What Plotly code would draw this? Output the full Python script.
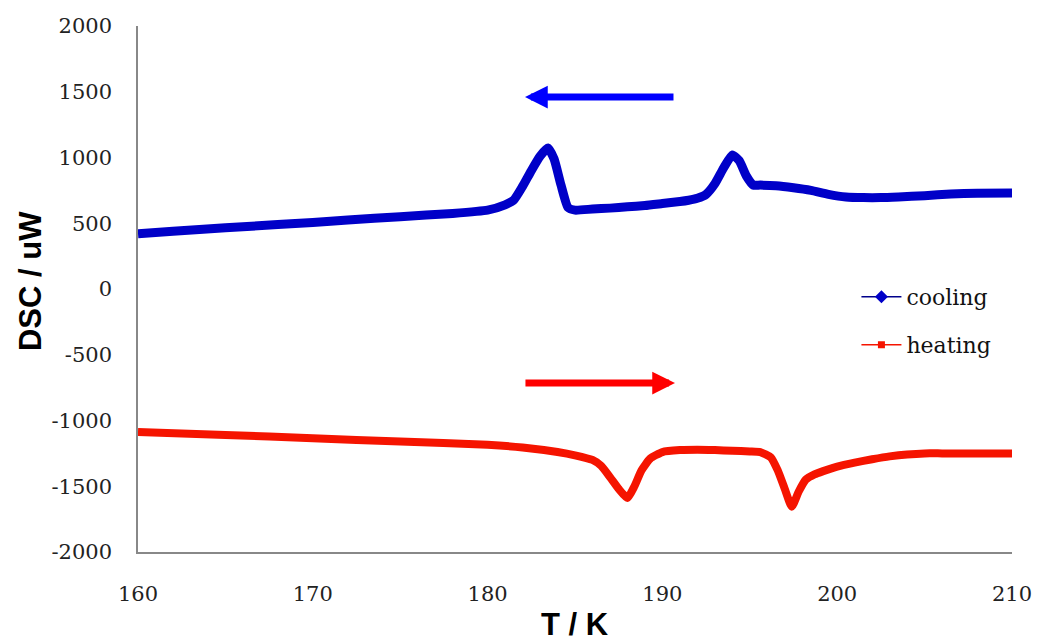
import plotly.graph_objects as go

# ---- data ----
cool_T = [160, 162, 165, 168, 170, 172, 175, 178, 180, 181, 181.5, 182, 182.5, 183, 183.45,
          183.8, 184.2, 184.6, 185, 186, 187, 188, 189, 190, 191, 191.5, 192, 192.5, 193, 193.5,
          194.0, 194.4, 194.8, 195.2, 195.6, 196.5, 197.5, 198.5, 199.5, 200.5, 201.5,
          202.5, 203.5, 205, 206.5, 208, 210]
cool_dsc = [420, 440, 465, 490, 505, 525, 550, 575, 600, 640, 677, 780, 900, 1010, 1072,
            990, 790, 620, 600, 608, 615, 625, 635, 650, 665, 675, 690, 720, 800, 920,
            1020, 975, 860, 790, 790, 785, 770, 750, 720, 700, 695,
            695, 700, 710, 722, 728, 730]

heat_T = [160, 165, 170, 175, 180, 182, 184, 185, 186, 186.5, 187, 187.5, 188, 188.4, 188.8,
          189.3, 190, 191, 192, 193, 194, 195, 195.6, 196.2, 196.6, 197, 197.4, 197.8,
          198.2, 198.7, 199.2, 200, 201, 202, 203, 204, 205, 206, 208, 210]
heat_dsc = [-1087, -1110, -1135, -1160, -1185, -1205, -1240, -1265, -1300, -1345, -1430, -1520,
            -1590, -1500, -1380, -1290, -1240, -1225, -1222, -1225, -1230, -1235, -1240, -1280,
            -1380, -1520, -1655, -1540, -1450, -1410, -1385, -1350, -1320, -1295, -1273, -1258,
            -1250, -1250, -1250, -1250]

y_ticks = [2000, 1500, 1000, 500, 0, -500, -1000, -1500, -2000]
y_tick_text = ["2000", "1500", "1000", "500", "0", "-500", "-1000", "-1500", "-2000"]
x_ticks = [160, 170, 180, 190, 200, 210]

BLUE = "#0000C8"
RED = "#F51400"

fig = go.Figure()
fig.add_trace(go.Scatter(x=cool_T, y=cool_dsc, mode="lines", showlegend=False,
                         line=dict(color=BLUE, width=9, shape="spline", smoothing=0.5)))
fig.add_trace(go.Scatter(x=heat_T, y=heat_dsc, mode="lines", showlegend=False,
                         line=dict(color=RED, width=8, shape="spline", smoothing=0.5)))
# legend entries
fig.add_trace(go.Scatter(x=[None], y=[None], mode="lines+markers", name="cooling",
                         line=dict(color="#00008B", width=1.5),
                         marker=dict(symbol="diamond", size=10, color=BLUE),
                         legend="legend"))
fig.add_trace(go.Scatter(x=[None], y=[None], mode="lines+markers", name="heating",
                         line=dict(color=RED, width=1.5),
                         marker=dict(symbol="square", size=7, color=RED),
                         legend="legend2"))

# direction arrows
fig.add_annotation(x=182.14, y=1460, ax=190.72, ay=1460, xref="x", yref="y",
                   axref="x", ayref="y", text="", showarrow=True,
                   arrowhead=2, arrowsize=0.65, arrowwidth=7, arrowcolor="#0000FF")
fig.add_annotation(x=190.72, y=-715, ax=182.08, ay=-715, xref="x", yref="y",
                   axref="x", ayref="y", text="", showarrow=True,
                   arrowhead=2, arrowsize=0.65, arrowwidth=7, arrowcolor="#FF0000")

# axis titles
title_font = dict(family="Liberation Sans, Arial", size=31, color="black")
fig.add_annotation(text="<b>T / K</b>", xref="paper", yref="paper", x=0.5, y=-0.137,
                   xanchor="center", yanchor="middle", showarrow=False, font=title_font)
fig.add_annotation(text="<b>DSC / uW</b>", xref="paper", yref="paper", x=-0.1236, y=0.515,
                   xanchor="center", yanchor="middle", showarrow=False, textangle=-90,
                   font=title_font)

legend_common = dict(font=dict(family="DejaVu Serif", size=22, color="#111"),
                     bgcolor="rgba(0,0,0,0)", xanchor="left", yanchor="middle",
                     itemwidth=40)
fig.update_layout(
    width=1037, height=644,
    margin=dict(l=138, r=25, t=26, b=92),
    paper_bgcolor="white", plot_bgcolor="white",
    legend=dict(x=0.822, y=(297 - 26) / -526 + 1, **legend_common),
    legend2=dict(x=0.822, y=(345 - 26) / -526 + 1, **legend_common),
    xaxis=dict(range=[160, 210], tickvals=x_ticks, showgrid=False, zeroline=False,
               showline=True, linecolor="#888", linewidth=1.5, ticks="",
               ticklabelstandoff=22, automargin=False,
               tickfont=dict(family="DejaVu Serif", size=21, color="#222")),
    yaxis=dict(range=[-2000, 2000], tickvals=y_ticks, ticktext=y_tick_text,
               showgrid=False, zeroline=False, showline=True, linecolor="#888",
               linewidth=1.5, ticks="", ticklabelstandoff=20, automargin=False,
               tickfont=dict(family="DejaVu Serif", size=21, color="#222")),
)

fig.write_html("out.html")
